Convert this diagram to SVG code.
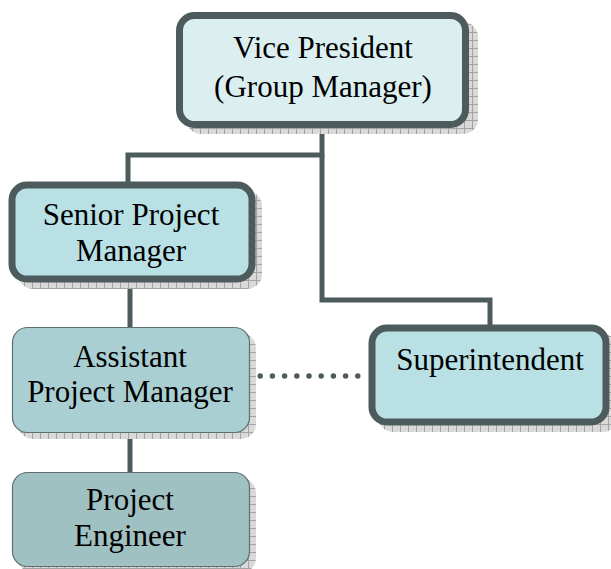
<svg xmlns="http://www.w3.org/2000/svg" width="611" height="569" viewBox="0 0 611 569">
  <defs>
    <pattern id="grid" width="8" height="8" patternUnits="userSpaceOnUse">
      <rect width="8" height="8" fill="#d9d9d9"/>
      <path d="M0 0.5H8M0.5 0V8" stroke="#a3a3a3" stroke-width="1"/>
    </pattern>
  </defs>
  <style>
    .shadow { fill: url(#grid); }
    .thick { stroke: #4d5b5c; stroke-width: 7; }
    .thin { stroke: #5f6f70; stroke-width: 1.2; }
    .lbl { font-family: "Liberation Serif", "Times New Roman", serif; font-size: 31px; fill: #000; text-anchor: middle; }
    .conn { fill: none; stroke: #4d5b5c; stroke-width: 5; }
  </style>

  <g id="connectors">
    <path class="conn" d="M322 124V155H128V185"/>
    <path class="conn" d="M322 155V300H490V328"/>
    <path class="conn" d="M130 280V330"/>
    <path class="conn" d="M130 432V474"/>
    <path d="M248 376H360" fill="none" stroke="#4d5b5c" stroke-width="5.5" stroke-linecap="round" stroke-dasharray="0 12.2"/>
  </g>

  <g id="vice-president">
    <rect class="shadow" x="186" y="22" width="292" height="112" rx="15"/>
    <rect class="thick" x="179.5" y="15.5" width="286" height="109" rx="15" fill="#dbeef0"/>
    <text class="lbl" x="323" y="58">Vice President</text>
    <text class="lbl" x="323" y="97">(Group Manager)</text>
  </g>

  <g id="senior-project-manager">
    <rect class="shadow" x="18" y="191" width="244" height="98" rx="15"/>
    <rect class="thick" x="12" y="185" width="240" height="94" rx="15" fill="#b9e0e4"/>
    <text class="lbl" x="131" y="225">Senior Project</text>
    <text class="lbl" x="131" y="261">Manager</text>
  </g>

  <g id="assistant-project-manager">
    <rect class="shadow" x="18" y="333" width="238" height="106" rx="15"/>
    <rect class="thin" x="12.5" y="327.5" width="237" height="105" rx="15" fill="#aacfd2"/>
    <text class="lbl" x="130" y="367">Assistant</text>
    <text class="lbl" x="130" y="402">Project Manager</text>
  </g>

  <g id="project-engineer">
    <rect class="shadow" x="18" y="478" width="238" height="95" rx="15"/>
    <rect class="thin" x="12.5" y="472.5" width="237" height="94" rx="15" fill="#a0c1c2"/>
    <text class="lbl" x="130" y="510">Project</text>
    <text class="lbl" x="130" y="546">Engineer</text>
  </g>

  <g id="superintendent">
    <rect class="shadow" x="378" y="334" width="240" height="98" rx="15"/>
    <rect class="thick" x="372" y="328" width="234" height="94" rx="15" fill="#b9e0e4"/>
    <text class="lbl" x="490" y="370">Superintendent</text>
  </g>
</svg>
